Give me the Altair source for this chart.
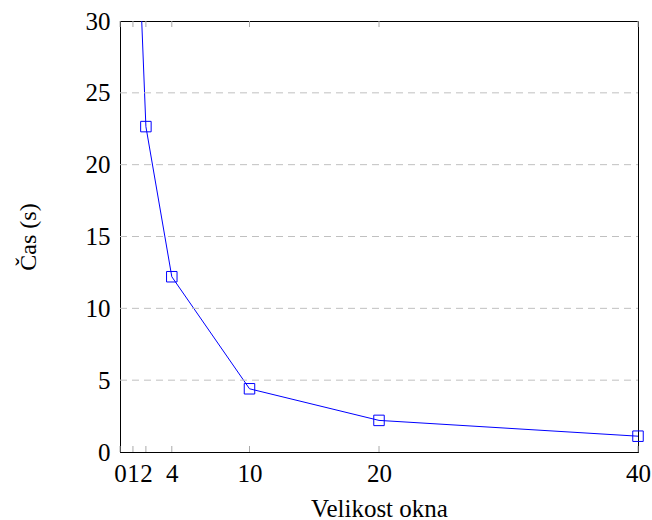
import altair as alt
import pandas as pd

# Window size vs. running time
window_size = [1, 2, 4, 10, 20, 40]
time_s = [45.4, 22.65, 12.2, 4.4, 2.2, 1.1]
x_ticks = [0, 1, 2, 4, 10, 20, 40]
y_ticks = [0, 5, 10, 15, 20, 25, 30]
y_grid = [5, 10, 15, 20, 25]

df = pd.DataFrame({"okno": window_size, "cas": time_s})
ticks_df = pd.DataFrame({"okno": x_ticks})
grid_df = pd.DataFrame({"cas": y_grid})

FONT = "Liberation Serif"
BLUE = "#0000ff"
W, H = 518, 431
FS = 25

x_scale = alt.Scale(domain=[0, 40], nice=False, zero=True)
y_scale = alt.Scale(domain=[0, 30], nice=False)

x_bottom = alt.X(
    "okno:Q", scale=x_scale,
    axis=alt.Axis(
        values=x_ticks, title="Velikost okna", grid=False, orient="bottom",
        ticks=False, labelPadding=9,
        domainColor="black", labelFontSize=FS, titleFontSize=FS,
        labelFont=FONT, titleFont=FONT, titleFontWeight="normal",
        labelColor="black", titleColor="black", titlePadding=10,
        labelFlush=False, labelOverlap=False,
    ),
)

y_axis = alt.Y(
    "cas:Q", scale=y_scale,
    axis=alt.Axis(
        values=y_ticks, title="Čas (s)", grid=False, ticks=False,
        labelPadding=10, domainColor="black", labelFontSize=FS,
        titleFontSize=24, labelFont=FONT, titleFont=FONT,
        titleFontWeight="normal", labelColor="black", titleColor="black",
        titlePadding=45, labelFlush=False,
    ),
)

# Dashed horizontal grid lines
grid = alt.Chart(grid_df).mark_rule(
    color="#c0c0c0", strokeWidth=1, strokeDash=[7, 5]
).encode(y=alt.Y("cas:Q", scale=y_scale), x=alt.value(0), x2=alt.value(W))

line = alt.Chart(df).mark_line(color=BLUE, strokeWidth=1, clip=True).encode(
    x=x_bottom, y=y_axis
)

points = alt.Chart(df).transform_filter("datum.cas <= 30").mark_point(
    shape="square", size=110, filled=False, color=BLUE, strokeWidth=1, opacity=1
).encode(x=alt.X("okno:Q", scale=x_scale), y=alt.Y("cas:Q", scale=y_scale))

# Inward tick marks along the bottom and top edges
tick_x = alt.X("okno:Q", scale=x_scale)
bottom_ticks = alt.Chart(ticks_df).mark_rule(color="#aaaaaa", strokeWidth=1).encode(
    x=tick_x, y=alt.value(H), y2=alt.value(H - 6)
)
top_ticks = alt.Chart(ticks_df).mark_rule(color="#aaaaaa", strokeWidth=1).encode(
    x=tick_x, y=alt.value(0), y2=alt.value(6)
)

chart = (
    alt.layer(line, grid, bottom_ticks, top_ticks, points)
    .properties(
        width=W, height=H,
        autosize=alt.AutoSizeParams(type="none"),
        padding={"left": 120, "top": 21, "right": 14, "bottom": 68},
        background="white",
    )
    .configure_view(stroke="black", strokeWidth=1)
)

chart.save("out.html", embed_options={"renderer": "svg", "actions": False})
